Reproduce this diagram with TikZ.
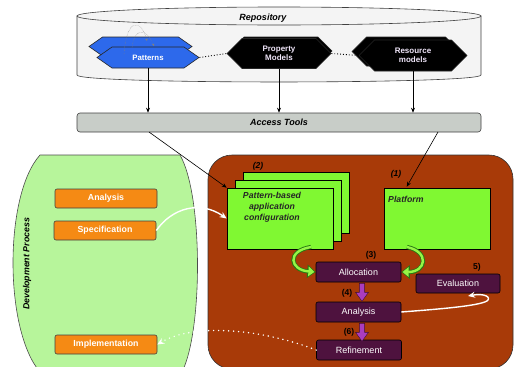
\documentclass[tikz,border=0pt]{standalone}
\usepackage{fontspec}
\setmainfont{Liberation Sans}
\usetikzlibrary{arrows.meta,shapes.symbols,calc}
\definecolor{brownbg}{RGB}{168,58,8}
\definecolor{devgreen}{RGB}{183,245,155}
\definecolor{boxgreen}{RGB}{128,248,50}
\definecolor{orangebox}{RGB}{245,138,20}
\definecolor{purplebox}{RGB}{78,18,62}
\definecolor{blockarrow}{RGB}{170,60,190}
\definecolor{patblue}{RGB}{45,105,235}
\definecolor{toolgray}{RGB}{200,205,200}
\definecolor{arrowlight}{RGB}{150,245,70}
\definecolor{arrowdark}{RGB}{40,120,20}
\definecolor{cylfill}{RGB}{244,244,244}
\definecolor{hextext}{RGB}{240,230,250}
\begin{document}
\begin{tikzpicture}[x=1pt,y=-1pt,>={Stealth[length=5pt,width=4pt]},
  hexshape/.style={signal, signal to=east and west, signal pointer angle=70, draw=black!85, line width=0.6pt, inner sep=0pt, text=white, font=\bfseries\fontsize{7.8}{9}\selectfont, align=center},
  blackhex/.style={hexshape, fill=black, signal pointer angle=90, text=hextext, font=\bfseries\fontsize{8}{9.5}\selectfont},
  orangebox/.style={rectangle, rounded corners=2pt, fill=orangebox, draw=black!75, line width=0.6pt, text=white, font=\bfseries\fontsize{8.8}{10}\selectfont, minimum width=102pt, minimum height=19pt, inner sep=0pt},
  purplebox/.style={rectangle, rounded corners=2pt, fill=purplebox, draw=black, line width=0.6pt, text=white, font=\fontsize{9}{10}\selectfont, minimum width=85pt, minimum height=20pt, inner sep=0pt},
  greenbox/.style={rectangle, fill=boxgreen, draw=black, line width=0.6pt, minimum width=106pt, minimum height=61pt, inner sep=0pt},
  boxtitle/.style={font=\bfseries\itshape\fontsize{8.7}{11}\selectfont, text=black!85, inner sep=0pt},
  numlbl/.style={font=\bfseries\fontsize{8.5}{10}\selectfont, inner sep=0pt},
  conn/.style={->, line width=0.6pt, black},
  whitearrow/.style={white, line width=1.4pt, -{Stealth[length=7pt,width=6pt]}},
  downarrow/.pic={\filldraw[fill=blockarrow, draw=purplebox!80!black, line width=0.4pt]
     (-2.6,0) -- (2.6,0) -- (2.6,9) -- (6.5,9) -- (0,18) -- (-6.5,9) -- (-2.6,9) -- cycle;}
]
\useasboundingbox (0,0) rectangle (515,367);
\begin{scope}
\clip (0,0) rectangle (515,367);
% development process background
\filldraw[fill=devgreen, draw=black!70, line width=0.6pt]
  (40,155) -- (180,155) .. controls (203,195) and (203,330) .. (182,372) -- (40,372)
  .. controls (4,330) and (4,195) .. cycle;
% brown platform background
\filldraw[fill=brownbg, draw=black!80, line width=0.6pt, rounded corners=24pt]
  (208,155) rectangle (513,369);
\end{scope}

% repository cylinder
\filldraw[fill=cylfill, draw=black!75, line width=0.6pt]
  (77,16) -- (77,75) .. controls (77,84.3) and (481,84.3) .. (481,75) -- (481,16) -- cycle;
\filldraw[fill=cylfill, draw=black!75, line width=0.6pt] (279,16) ellipse [x radius=202pt, y radius=9pt];
\node[font=\bfseries\itshape\fontsize{9}{10}\selectfont, inner sep=0pt] (repo) at (263,18) {Repository};

% repository contents
\node[hexshape, fill=patblue, minimum width=103pt, minimum height=19pt] (patback) at (140.5,46.5) {};
\node[hexshape, fill=patblue, minimum width=102pt, minimum height=21pt] (pat) at (148,57.5) {Patterns};
\draw[gray, densely dotted, line width=0.4pt, -{Stealth[length=2.5pt,width=2.5pt]}] (124,55) .. controls (126,18) and (141,18) .. (147,41);
\draw[gray, densely dotted, line width=0.4pt, -{Stealth[length=2.5pt,width=2.5pt]}] (132,48) .. controls (134,28) and (146,27) .. (154,46);
\node[blackhex, minimum width=102pt, minimum height=28pt] (propback) at (281,51) {};
\node[blackhex, minimum width=104pt, minimum height=30pt] (prop) at (279,53.5) {Property\\Models};
\node[blackhex, minimum width=108pt, minimum height=29pt] (resback) at (406,51.5) {};
\node[blackhex, minimum width=108pt, minimum height=31pt] (res) at (413,55.5) {Resource\\models};
\draw[dotted, line width=0.9pt] (pat.east) -- (prop.west);
\draw[dotted, line width=0.9pt] (prop.east) -- (res.west);

% access tools
\node[fill=toolgray, draw=black!75, line width=0.6pt, rounded corners=3pt, minimum width=404pt, minimum height=19pt, inner sep=0pt,
  font=\bfseries\itshape\fontsize{9}{10}\selectfont] (acc) at (279,122.5) {Access Tools};
\draw[conn] (pat.south) -- (pat.south |- acc.north);
\draw[conn] (prop.south) -- (prop.south |- acc.north);
\draw[conn] (res.south) -- (res.south |- acc.north);

% development process
\node[rotate=90, font=\bfseries\itshape\fontsize{8.8}{10}\selectfont, inner sep=0pt] (devlbl) at (27,264) {Development Process};
\node[orangebox] (danalysis) at (106,198.5) {Analysis};
\node[orangebox] (dspec) at (105,230.5) {Specification};
\node[orangebox] (dimpl) at (106,344.5) {Implementation};

% pattern-based application configuration stack
\node[greenbox] (pc3) at (296,202.5) {};
\node[greenbox] (pc2) at (288,210.5) {};
\node[greenbox] (pc1) at (280,218.5) {};
\node[boxtitle, align=center] (pctext) at (272,207) {Pattern-based\\application\\configuration};
\node[numlbl, font=\bfseries\itshape\fontsize{8.5}{10}\selectfont] (l2) at (258,166) {(2)};

% platform
\node[greenbox] (plat) at (437,218.5) {};
\node[boxtitle, anchor=west] (plattext) at (388,199) {Platform};
\node[numlbl, font=\bfseries\itshape\fontsize{8.5}{10}\selectfont] (l1) at (396,174) {(1)};

\coordinate (acc1) at (149,132);
\coordinate (acc2) at (438,132);
\draw[conn] (acc1) -- (pc1.north west);
\draw[conn] (acc2) -- ($(plat.north west)+(23,-1)$);

% process steps
\node[purplebox] (alloc) at (358.5,272) {Allocation};
\node[purplebox] (panalysis) at (358.5,312) {Analysis};
\node[purplebox] (refine) at (359,350) {Refinement};
\node[purplebox, minimum width=84pt, minimum height=19pt] (eval) at (458,283.5) {Evaluation};
\node[numlbl] (l3) at (371,255) {(3)};
\node[numlbl] (l4) at (347,293) {(4)};
\node[numlbl] (l6) at (349,332) {(6)};
\node[numlbl] (l5) at (477,267) {5)};
\pic at ($(alloc.south)+(3.5,1)$) {downarrow};
\pic at ($(panalysis.south)+(3.5,1)$) {downarrow};

% green curved arrows
\coordinate (g1s) at (311,247);
\coordinate (g2s) at (407,247);
\draw[arrowdark, line width=4.2pt, -{Triangle[length=8.5pt,width=13pt]}] (g1s) .. controls (286,251) and (290,270) .. (alloc.west);
\draw[arrowlight, line width=2.4pt, shorten >=1.3pt, -{Triangle[length=6pt,width=9.5pt]}] (g1s) .. controls (286,251) and (290,270) .. (alloc.west);
\draw[arrowdark, line width=4.2pt, -{Triangle[length=8.5pt,width=13pt]}] (g2s) .. controls (430,252) and (426,272) .. (alloc.east);
\draw[arrowlight, line width=2.4pt, shorten >=1.3pt, -{Triangle[length=6pt,width=9.5pt]}] (g2s) .. controls (430,252) and (426,272) .. (alloc.east);

% white connectors
\draw[whitearrow] (dspec.east) .. controls (172,208) and (200,200) .. (pc1.west);
\coordinate (evin) at (468,296);
\draw[whitearrow] (panalysis.east) .. controls (440,309) and (478,306) .. (487,301)
  .. controls (492,297) and (484,293) .. (evin);
\draw[white, line width=1.6pt, line cap=round, dash pattern=on 0pt off 5pt, -{Stealth[length=7pt,width=6pt]}]
  (refine.west) .. controls (265,330) and (195,322) .. (dimpl.east);
\end{tikzpicture}
\end{document}
